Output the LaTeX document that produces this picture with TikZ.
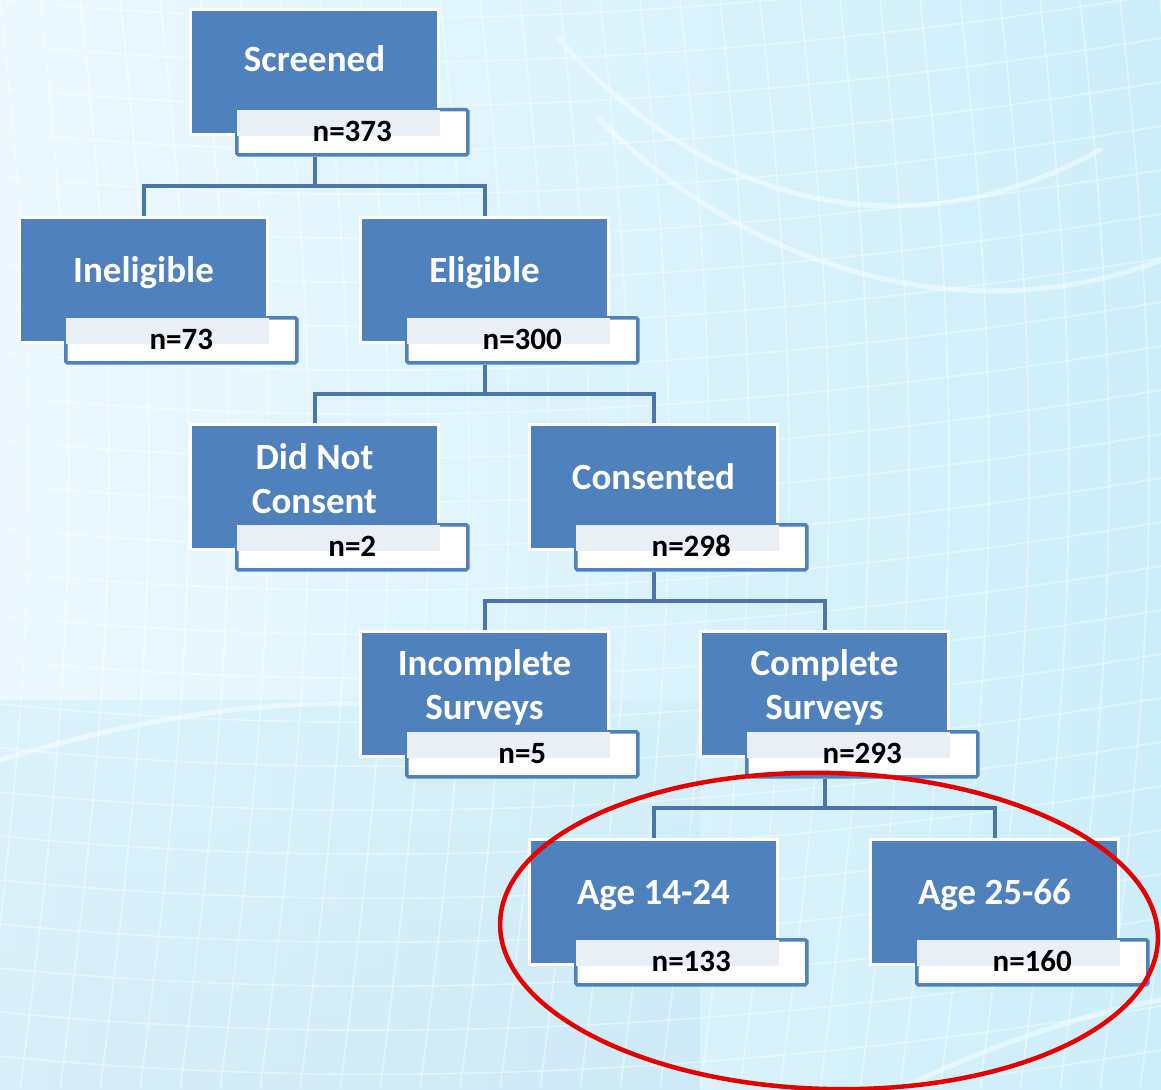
\documentclass[tikz,border=0pt]{standalone}
\usepackage{fontspec}
\setmainfont{Carlito}
\usetikzlibrary{calc}
\definecolor{boxblue}{RGB}{79,129,189}
\definecolor{linkblue}{RGB}{74,118,172}
\definecolor{tint}{RGB}{234,239,246}
\definecolor{bgA}{RGB}{236,248,253}
\definecolor{bgB}{RGB}{204,238,250}
\definecolor{bgC}{RGB}{196,228,243}
\definecolor{markred}{RGB}{230,0,0}
\tikzset{
  stagebox/.style={draw=white, line width=3pt, fill=boxblue, minimum width=248pt, minimum height=125pt, anchor=north west, inner sep=0pt},
  stagetitle/.style={text=white, font=\bfseries\fontsize{37}{44}\selectfont, align=center, inner sep=0pt, anchor=base},
  countbox/.style={draw=boxblue, line width=3.5pt, rounded corners=1.5pt, minimum width=231pt, minimum height=45pt, anchor=north west, inner sep=0pt, fill=white},
  counttext/.style={font=\bfseries\fontsize{31}{36}\selectfont, text=black, inner sep=0pt, anchor=base},
  conn/.style={draw=linkblue, line width=4pt},
  gridline/.style={draw=white, line width=1.6pt, opacity=0.4},
  swoosh/.style={draw=white, line width=5pt, opacity=0.45, line cap=round},
  redmark/.style={draw=markred, line width=4.5pt},
}
% name, x, y, title, count, baseline offset of the last title line
\newcommand\flowstage[6]{%
  \node[stagebox] (#1) at (#2,#3) {};
  \node[countbox] (#1-n) at ($(#1.north west)+(46,100)$) {};
  \fill[tint] ($(#1-n.north west)+(1.75,1.75)$) rectangle (#1.south east);
  \node[stagetitle] (#1-t) at ($(#1.north)+(0,#6)$) {#4};
  \node[counttext] (#1-c) at ($(#1-n.north)+(0,33)$) {#5};
}
\begin{document}
\begin{tikzpicture}[x=1pt,y=-1pt]
\useasboundingbox (0,0) rectangle (1161,1089);
% background
\shade[left color=bgA, right color=bgB] (0,0) rectangle (1161,1089);
\shade[top color=bgB, bottom color=bgC, opacity=0.5] (0,700) rectangle (700,1089);
\foreach \i in {0,...,32}{
  \draw[gridline] (\i*40-40,0) .. controls (\i*40+10,450) and (\i*40-10,700) .. (\i*40-60,1089);
}
\foreach \j in {0,...,26}{
  \draw[gridline] (0,\j*44) .. controls (400,\j*44+40) and (800,\j*44+10) .. (1161,\j*44-50);
}
\draw[swoosh] (560,40) .. controls (700,200) and (900,260) .. (1100,150);
\draw[swoosh] (600,120) .. controls (760,280) and (980,330) .. (1161,260);
\draw[swoosh] (0,760) .. controls (200,700) and (350,690) .. (520,720);
\draw[swoosh] (900,1089) .. controls (1000,1040) and (1100,1010) .. (1161,1000);

% stages
\flowstage{scr}{189}{8}{Screened}{n=373}{64}
\flowstage{inel}{18}{216}{Ineligible}{n=73}{66}
\flowstage{elig}{359}{216}{Eligible}{n=300}{66}
\flowstage{dnc}{189}{423}{Did Not\\Consent}{n=2}{90}
\flowstage{cons}{528}{423}{Consented}{n=298}{66}
\flowstage{inc}{359}{630}{Incomplete\\Surveys}{n=5}{89}
\flowstage{comp}{699}{630}{Complete\\Surveys}{n=293}{89}
\flowstage{ageA}{528}{838}{Age 14-24}{n=133}{66}
\flowstage{ageB}{869}{838}{Age 25-66}{n=160}{66}

% connectors
\draw[conn] (scr.south |- scr-n.south) -- ++(0,29) coordinate (b1) -| (inel.north);
\draw[conn] (b1) -| (elig.north);
\draw[conn] (elig.south |- elig-n.south) -- ++(0,29) coordinate (b2) -| (dnc.north);
\draw[conn] (b2) -| (cons.north);
\draw[conn] (cons.south |- cons-n.south) -- ++(0,29) coordinate (b3) -| (inc.north);
\draw[conn] (b3) -| (comp.north);
\draw[conn] (comp.south |- comp-n.south) -- ++(0,29) coordinate (b4) -| (ageA.north);
\draw[conn] (b4) -| (ageB.north);

% highlight
\draw[redmark] (829,931) ellipse [x radius=329pt, y radius=158pt, rotate=-1.5];
\end{tikzpicture}
\end{document}
